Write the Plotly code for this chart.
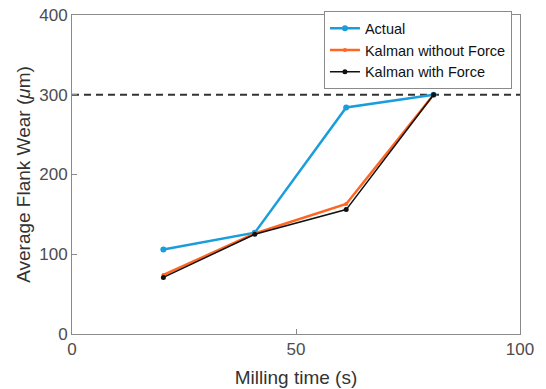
import plotly.graph_objects as go

milling_time = [20.4, 40.8, 61.2, 80.7]
actual = [106, 127, 284, 300]
kalman_without_force = [74, 126, 163, 300]
kalman_with_force = [71, 125, 156, 300]
threshold = 300

x_ticks = [0, 50, 100]
y_ticks = [0, 100, 200, 300, 400]

font = "Liberation Sans, Arial, sans-serif"

fig = go.Figure()
fig.add_trace(go.Scatter(x=milling_time, y=actual, name="Actual", mode="lines+markers",
                         line=dict(color="#1a9dda", width=2.5), marker=dict(size=6, color="#1a9dda")))
fig.add_trace(go.Scatter(x=milling_time, y=kalman_without_force, name="Kalman without Force", mode="lines+markers",
                         line=dict(color="#ff6622", width=2.5), marker=dict(size=4, color="#ff6622")))
fig.add_trace(go.Scatter(x=milling_time, y=kalman_with_force, name="Kalman with Force", mode="lines+markers",
                         line=dict(color="#111111", width=1.5), marker=dict(size=5, color="#111111")))

fig.add_shape(type="line", xref="paper", x0=0, x1=1, yref="y", y0=threshold, y1=threshold,
              line=dict(color="#333333", width=2, dash="7px,5px"), layer="below")

axis_common = dict(showgrid=False, zeroline=False, showline=True, mirror=True, automargin=False,
                   linecolor="#8a8a8a", linewidth=1, ticks="inside", ticklen=5,
                   tickcolor="#8a8a8a", tickfont=dict(family=font, size=17, color="#4d4d4d"))

fig.update_layout(
    width=546, height=389,
    margin=dict(l=72, r=26, t=14, b=55),
    paper_bgcolor="white", plot_bgcolor="white",
    font=dict(family=font),
    showlegend=True,
    legend=dict(x=0.982, y=0.765, xanchor="right", yanchor="bottom",
                bgcolor="white", bordercolor="#8a8a8a", borderwidth=1,
                font=dict(family=font, size=14.5, color="#111111"),
                tracegroupgap=0, itemwidth=30),
    xaxis=dict(range=[0, 100], tickvals=x_ticks, ticktext=[str(v) for v in x_ticks],
               title=dict(text="Milling time (s)", font=dict(family=font, size=19, color="#333333"), standoff=12),
               **axis_common),
    yaxis=dict(range=[0, 400], tickvals=y_ticks, ticktext=[str(v) for v in y_ticks],
               title=dict(text="Average Flank Wear (<i>μ</i>m)", font=dict(family=font, size=19, color="#333333"), standoff=3),
               **axis_common),
)

fig.write_html("out.html", config={"displayModeBar": False},
               post_script="document.body.style.margin='0';document.body.style.overflow='hidden';")
